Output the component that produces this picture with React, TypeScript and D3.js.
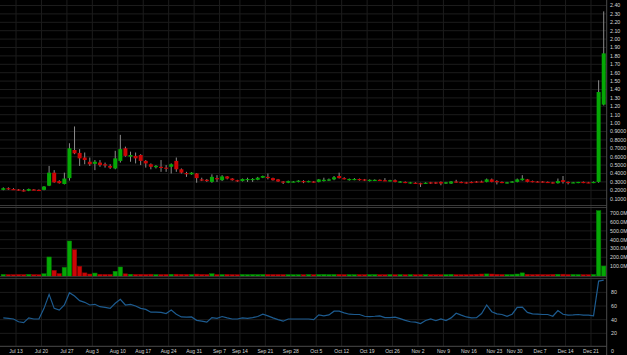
import React from 'react';
import * as d3 from 'd3';

const W = 627;
const H = 355;

// Trading calendar (2020)
const START_DATE = new Date(2020, 6, 8);
const END_DATE = new Date(2020, 11, 24);
const HOLIDAYS = ['2020-09-07', '2020-11-26'];

// OHLC values, one per trading day
const open = [
  0.205, 0.225, 0.215, 0.21, 0.2, 0.195, 0.21, 0.205, 0.205, 0.255,
  0.41, 0.31, 0.275, 0.345, 0.68, 0.645, 0.59, 0.54, 0.515, 0.53,
  0.51, 0.49, 0.46, 0.55, 0.7, 0.6, 0.61, 0.62, 0.55, 0.51,
  0.475, 0.48, 0.47, 0.48, 0.55, 0.45, 0.405, 0.39, 0.4, 0.33,
  0.325, 0.3, 0.345, 0.32, 0.365, 0.34, 0.32, 0.31, 0.325, 0.33,
  0.325, 0.35, 0.36, 0.345, 0.33, 0.305, 0.29, 0.3, 0.3, 0.31,
  0.3, 0.305, 0.3, 0.31, 0.315, 0.33, 0.37, 0.345, 0.32, 0.325,
  0.335, 0.33, 0.31, 0.315, 0.325, 0.32, 0.31, 0.32, 0.3, 0.3,
  0.29, 0.29, 0.285, 0.28, 0.295, 0.295, 0.3, 0.28, 0.28, 0.305,
  0.3, 0.295, 0.3, 0.305, 0.305, 0.3, 0.33, 0.31, 0.3, 0.285,
  0.295, 0.3, 0.32, 0.33, 0.31, 0.305, 0.305, 0.3, 0.295, 0.285,
  0.32, 0.3, 0.29, 0.29, 0.3, 0.295, 0.29, 0.3, 1.22,
];
const high = [
  0.235, 0.235, 0.225, 0.215, 0.215, 0.22, 0.215, 0.21, 0.25, 0.49,
  0.44, 0.32, 0.41, 0.76, 0.96, 0.69, 0.65, 0.59, 0.56, 0.56,
  0.53, 0.51, 0.67, 0.86, 0.72, 0.66, 0.65, 0.63, 0.56, 0.52,
  0.5, 0.56, 0.5, 0.52, 0.59, 0.46, 0.42, 0.415, 0.405, 0.35,
  0.335, 0.39, 0.38, 0.38, 0.37, 0.345, 0.325, 0.34, 0.35, 0.345,
  0.36, 0.375, 0.4, 0.35, 0.335, 0.31, 0.315, 0.31, 0.32, 0.32,
  0.315, 0.31, 0.335, 0.35, 0.34, 0.37, 0.41, 0.355, 0.34, 0.345,
  0.34, 0.335, 0.33, 0.33, 0.33, 0.345, 0.325, 0.33, 0.31, 0.305,
  0.3, 0.295, 0.29, 0.295, 0.3, 0.3, 0.305, 0.3, 0.31, 0.325,
  0.305, 0.3, 0.305, 0.31, 0.315, 0.34, 0.34, 0.32, 0.305, 0.3,
  0.31, 0.34, 0.38, 0.335, 0.315, 0.31, 0.31, 0.305, 0.3, 0.34,
  0.37, 0.305, 0.3, 0.3, 0.305, 0.3, 0.305, 1.51, 2.33,
];
const low = [
  0.2, 0.205, 0.205, 0.195, 0.185, 0.19, 0.2, 0.195, 0.2, 0.25,
  0.29, 0.28, 0.27, 0.315, 0.63, 0.49, 0.51, 0.49, 0.44, 0.48,
  0.47, 0.455, 0.45, 0.53, 0.6, 0.54, 0.52, 0.5, 0.47, 0.45,
  0.46, 0.42, 0.42, 0.4, 0.42, 0.4, 0.36, 0.385, 0.29, 0.31,
  0.3, 0.29, 0.3, 0.31, 0.33, 0.315, 0.3, 0.305, 0.3, 0.3,
  0.32, 0.345, 0.33, 0.315, 0.3, 0.275, 0.285, 0.295, 0.295, 0.285,
  0.295, 0.29, 0.295, 0.305, 0.31, 0.32, 0.34, 0.33, 0.315, 0.32,
  0.315, 0.31, 0.305, 0.31, 0.31, 0.31, 0.305, 0.295, 0.29, 0.285,
  0.28, 0.275, 0.24, 0.275, 0.275, 0.275, 0.26, 0.275, 0.275, 0.29,
  0.285, 0.28, 0.285, 0.29, 0.295, 0.295, 0.295, 0.27, 0.285, 0.28,
  0.29, 0.295, 0.315, 0.295, 0.295, 0.295, 0.29, 0.29, 0.28, 0.28,
  0.28, 0.27, 0.285, 0.285, 0.285, 0.285, 0.285, 0.29, 1.21,
];
const close = [
  0.225, 0.215, 0.21, 0.2, 0.195, 0.215, 0.205, 0.2, 0.245, 0.41,
  0.295, 0.285, 0.34, 0.7, 0.64, 0.58, 0.56, 0.51, 0.54, 0.5,
  0.495, 0.47, 0.58, 0.69, 0.61, 0.62, 0.58, 0.55, 0.52, 0.48,
  0.49, 0.475, 0.46, 0.51, 0.45, 0.41, 0.4, 0.41, 0.345, 0.32,
  0.31, 0.36, 0.335, 0.365, 0.34, 0.32, 0.31, 0.335, 0.335, 0.335,
  0.35, 0.37, 0.355, 0.32, 0.305, 0.295, 0.31, 0.305, 0.315, 0.3,
  0.31, 0.295, 0.33, 0.325, 0.33, 0.355, 0.345, 0.335, 0.335, 0.335,
  0.32, 0.315, 0.325, 0.325, 0.315, 0.315, 0.32, 0.3, 0.305, 0.29,
  0.295, 0.28, 0.28, 0.29, 0.28, 0.28, 0.28, 0.295, 0.305, 0.3,
  0.29, 0.285, 0.29, 0.295, 0.3, 0.33, 0.3, 0.3, 0.29, 0.295,
  0.305, 0.33, 0.34, 0.3, 0.3, 0.3, 0.3, 0.295, 0.285, 0.31,
  0.3, 0.29, 0.295, 0.3, 0.29, 0.29, 0.3, 1.37, 1.83,
];
// Volume in millions
const volumeM = [
  4, 3, 2, 4, 3, 5, 3, 2, 12, 203,
  51, 14, 85, 385, 286, 97, 22, 9, 20, 6,
  5, 5, 40, 89, 11, 6, 5, 6, 5, 7,
  3, 4, 5, 6, 7, 6, 5, 3, 8, 5,
  4, 12, 4, 3, 5, 3, 2, 4, 3, 4,
  3, 4, 5, 4, 4, 3, 2, 2, 2, 2,
  3, 2, 3, 5, 3, 4, 5, 3, 2, 2,
  3, 2, 2, 3, 2, 2, 3, 2, 2, 2,
  2, 2, 3, 2, 2, 2, 2, 3, 5, 2,
  2, 2, 3, 6, 9, 10, 9, 6, 4, 3,
  4, 9, 22, 6, 3, 5, 3, 3, 5, 6,
  7, 4, 4, 3, 2, 2, 4, 730, 100,
];
// RSI (14)
const rsi = [
  42.6, 42, 41, 37, 35.6, 42.6, 41, 41, 56.6, 77,
  56.6, 54, 61.5, 79.5, 74.6, 67.8, 65.4, 61.5, 62.5, 59,
  58, 56.6, 64, 69.8, 61.5, 62.5, 60, 56.6, 55, 51,
  51, 50.6, 49, 54, 48, 44, 43.6, 44, 39, 37.8,
  36.3, 43, 42, 44.6, 42.6, 41, 41, 42.6, 42, 43,
  44.6, 48, 45.6, 42.6, 40, 37.8, 41, 41, 41, 41,
  41, 40, 47, 45.6, 47, 52.5, 52.5, 50, 48, 47.6,
  47.6, 45, 44.6, 45, 45.6, 43, 43, 43.6, 41.5, 39,
  37, 36.3, 34.4, 38.8, 41, 38.5, 41, 38.8, 42.6, 49.5,
  46.6, 44, 42.6, 43, 49, 61.5, 51.7, 48.5, 47.6, 45,
  48, 58, 58.5, 50.7, 48.5, 48, 47.6, 47.6, 45, 53.4,
  48, 46.6, 47, 47.6, 46.6, 46.6, 45.6, 96.5, 98,
];

const priceTicks = [0.1, 0.2, 0.3, 0.4, 0.5, 0.6, 0.7, 0.8, 0.9, 1.0, 1.1, 1.2, 1.3, 1.4, 1.5, 1.6, 1.7, 1.8, 1.9, 2.0, 2.1, 2.2, 2.3, 2.4];
const volumeTicks = [100, 200, 300, 400, 500, 600, 700];
const rsiTicks = [0, 20, 40, 60, 80];

const fmtISO = d3.timeFormat('%Y-%m-%d');
const fmtLabel = d3.timeFormat('%b %-d');

const tradingDays = d3
  .timeDay.range(START_DATE, END_DATE)
  .filter((d) => d.getDay() !== 0 && d.getDay() !== 6 && !HOLIDAYS.includes(fmtISO(d)));

export default function App() {
  const n = tradingDays.length;
  const AXIS_X = 606.7;
  const PRICE_BOTTOM = 205;
  const VOL_TOP = 207.5;
  const VOL_BOTTOM = 276.5;
  const RSI_TOP = 278.5;
  const RSI_BOTTOM = 346;

  const x = d3.scaleBand<number>().domain(d3.range(n)).range([0.76, 606.26]).padding(0);
  const step = x.step();
  const cx = (i: number) => (x(i) as number) + step / 2;

  const yPrice = d3.scaleLinear().domain([0, 2.4]).range([207.1, 5.5]);
  const yVol = d3.scaleLinear().domain([0, 700]).range([274.8, 213.3]);
  const yRsi = d3.scaleLinear().domain([0, 100]).range([347, 278.7]);

  // Weekly grid: first trading day of each full week inside the range
  const weeks: { i: number; label: string }[] = [];
  tradingDays.forEach((d, i) => {
    const mon = d3.timeMonday.floor(d);
    if (i === 0) return;
    const prevMon = d3.timeMonday.floor(tradingDays[i - 1]);
    if (+mon !== +prevMon) weeks.push({ i, label: fmtLabel(mon) });
  });

  const up = (i: number) => close[i] >= open[i];
  const GREEN = '#05a805';
  const RED = '#cc0606';
  const GRID = '#1c1c1c';
  const BORDER = '#3a3a3a';
  const TEXT = '#d6d6d6';
  const font = 'Liberation Sans, Arial, sans-serif';

  const rsiLine = d3
    .line<number>()
    .x((_, i) => cx(i))
    .y((v) => yRsi(v));

  const priceLabel = (v: number) => (v >= 1 ? v.toFixed(2) : v.toFixed(4));

  return (
    <svg
      width={W}
      height={H}
      style={{ position: 'absolute', left: 0, top: 0, background: '#000' }}
    >
      <defs>
        <clipPath id="cp-price">
          <rect x={0} y={0} width={AXIS_X} height={PRICE_BOTTOM} />
        </clipPath>
        <clipPath id="cp-vol">
          <rect x={0} y={VOL_TOP} width={AXIS_X} height={VOL_BOTTOM - VOL_TOP} />
        </clipPath>
        <clipPath id="cp-rsi">
          <rect x={0} y={RSI_TOP} width={AXIS_X} height={RSI_BOTTOM - RSI_TOP} />
        </clipPath>
      </defs>
      <rect x={0} y={0} width={W} height={H} fill="#000" />

      {/* vertical weekly gridlines */}
      <g stroke={GRID} strokeWidth={1}>
        {weeks.map((w) => (
          <line key={'vg' + w.i} x1={x(w.i)} x2={x(w.i)} y1={0} y2={RSI_BOTTOM} />
        ))}
      </g>

      {/* horizontal gridlines */}
      <g stroke={GRID} strokeWidth={1}>
        {priceTicks.map((t) => (
          <line key={'pg' + t} x1={0} x2={AXIS_X} y1={yPrice(t)} y2={yPrice(t)} />
        ))}
        {volumeTicks.map((t) => (
          <line key={'vgh' + t} x1={0} x2={AXIS_X} y1={yVol(t)} y2={yVol(t)} />
        ))}
        {rsiTicks.filter((t) => t > 0).map((t) => (
          <line key={'rg' + t} x1={0} x2={AXIS_X} y1={yRsi(t)} y2={yRsi(t)} />
        ))}
      </g>

      {/* candles */}
      <g clipPath="url(#cp-price)">
        {d3.range(n).map((i) => (
          <line
            key={'w' + i}
            x1={cx(i)}
            x2={cx(i)}
            y1={yPrice(high[i])}
            y2={yPrice(low[i])}
            stroke="#8c8c8c"
            strokeWidth={1}
          />
        ))}
        {d3.range(n).map((i) => {
          const top = yPrice(Math.max(open[i], close[i]));
          const bot = yPrice(Math.min(open[i], close[i]));
          return (
            <rect
              key={'b' + i}
              x={cx(i) - 2}
              y={top}
              width={4}
              height={Math.max(1.2, bot - top)}
              fill={up(i) ? GREEN : RED}
            />
          );
        })}
      </g>

      {/* volume */}
      <g clipPath="url(#cp-vol)">
        {d3.range(n).map((i) => (
          <rect
            key={'v' + i}
            x={cx(i) - 2.2}
            y={yVol(volumeM[i])}
            width={4.4}
            height={VOL_BOTTOM - yVol(volumeM[i])}
            fill={up(i) ? GREEN : RED}
            stroke={up(i) ? '#047a04' : '#8a0505'}
            strokeWidth={0.5}
          />
        ))}
      </g>

      {/* RSI */}
      <g clipPath="url(#cp-rsi)">
        <path d={rsiLine(rsi) || ''} fill="none" stroke="#1d5b8f" strokeWidth={1.2} />
      </g>

      {/* panel borders */}
      <g stroke={BORDER} strokeWidth={1}>
        <line x1={0} x2={AXIS_X} y1={205.5} y2={205.5} />
        <line x1={0} x2={AXIS_X} y1={207.5} y2={207.5} />
        <line x1={0} x2={AXIS_X} y1={276.7} y2={276.7} />
        <line x1={0} x2={AXIS_X} y1={278.6} y2={278.6} />
        <line x1={0} x2={AXIS_X} y1={346.3} y2={346.3} stroke="#4a4a4a" />
        <line x1={AXIS_X} x2={AXIS_X} y1={0} y2={H} stroke="#4a4a4a" />
      </g>

      {/* right axis labels */}
      <g fontFamily={font} fontSize={5.3} fill={TEXT}>
        {priceTicks.map((t) => (
          <text key={'pl' + t} x={610} y={yPrice(t)} dy="0.35em">
            {priceLabel(t)}
          </text>
        ))}
        {volumeTicks.map((t) => (
          <text key={'vl' + t} x={610} y={yVol(t)} dy="0.35em">
            {t.toFixed(1) + 'M'}
          </text>
        ))}
        {rsiTicks.map((t) => (
          <text key={'rl' + t} x={611} y={yRsi(t) + (t === 0 ? 4.6 : 0)} dy="0.35em">
            {String(t)}
          </text>
        ))}
      </g>

      {/* date labels */}
      <g fontFamily={font} fontSize={5} fill={TEXT} textAnchor="middle">
        {weeks.map((w) => (
          <text key={'dl' + w.i} x={x(w.i)} y={351.5} dy="0.35em">
            {w.label}
          </text>
        ))}
      </g>
    </svg>
  );
}
